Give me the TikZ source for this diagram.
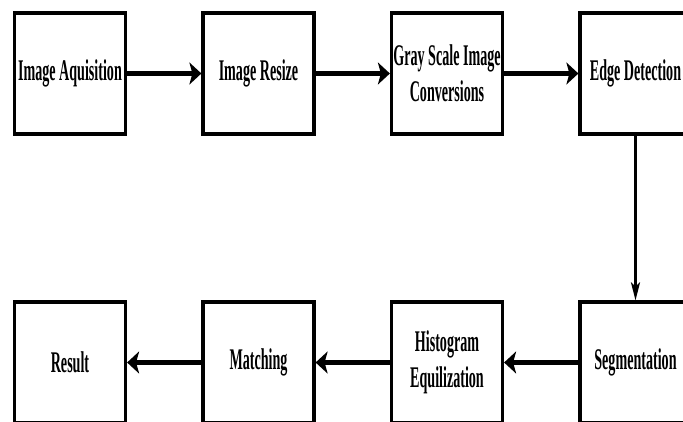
\documentclass[tikz,border=0pt]{standalone}
\usepackage{fontspec}
\setmainfont{Liberation Serif}[FakeStretch=0.47]
\usetikzlibrary{arrows.meta}

\begin{document}
\begin{tikzpicture}[x=1pt,y=-1pt,
  stage/.style={draw,line width=3.2pt,minimum width=111pt,minimum height=121pt,
    inner sep=0pt,align=center,font=\fontsize{30}{36}\selectfont\bfseries},
  flow/.style={line width=4.5pt,-{Stealth[length=12pt,width=22pt,inset=3pt]}},
  drop/.style={line width=2.5pt,-{Stealth[length=18pt,width=9pt,inset=4pt]}}]
\useasboundingbox (0,0) rectangle (683,422);
\clip (0,0) rectangle (683,422);
\node[stage] (aquire) at (70,73.5) {Image Aquisition};
\node[stage] (resize) at (258.5,73.5) {Image Resize};
\node[stage] (gray) at (447,73.5) {Gray Scale Image\\Conversions};
\node[stage] (edge) at (635.5,73.5) {Edge Detection};
\node[stage] (segment) at (635.5,362.5) {Segmentation};
\node[stage] (histo) at (447,362.5) {Histogram\\Equilization};
\node[stage] (match) at (258.5,362.5) {Matching};
\node[stage] (result) at (70,362.5) {Result};
\draw[flow] (aquire) -- (resize);
\draw[flow] (resize) -- (gray);
\draw[flow] (gray) -- (edge);
\draw[drop] (edge) -- (segment);
\draw[flow] (segment) -- (histo);
\draw[flow] (histo) -- (match);
\draw[flow] (match) -- (result);
\end{tikzpicture}
\end{document}
